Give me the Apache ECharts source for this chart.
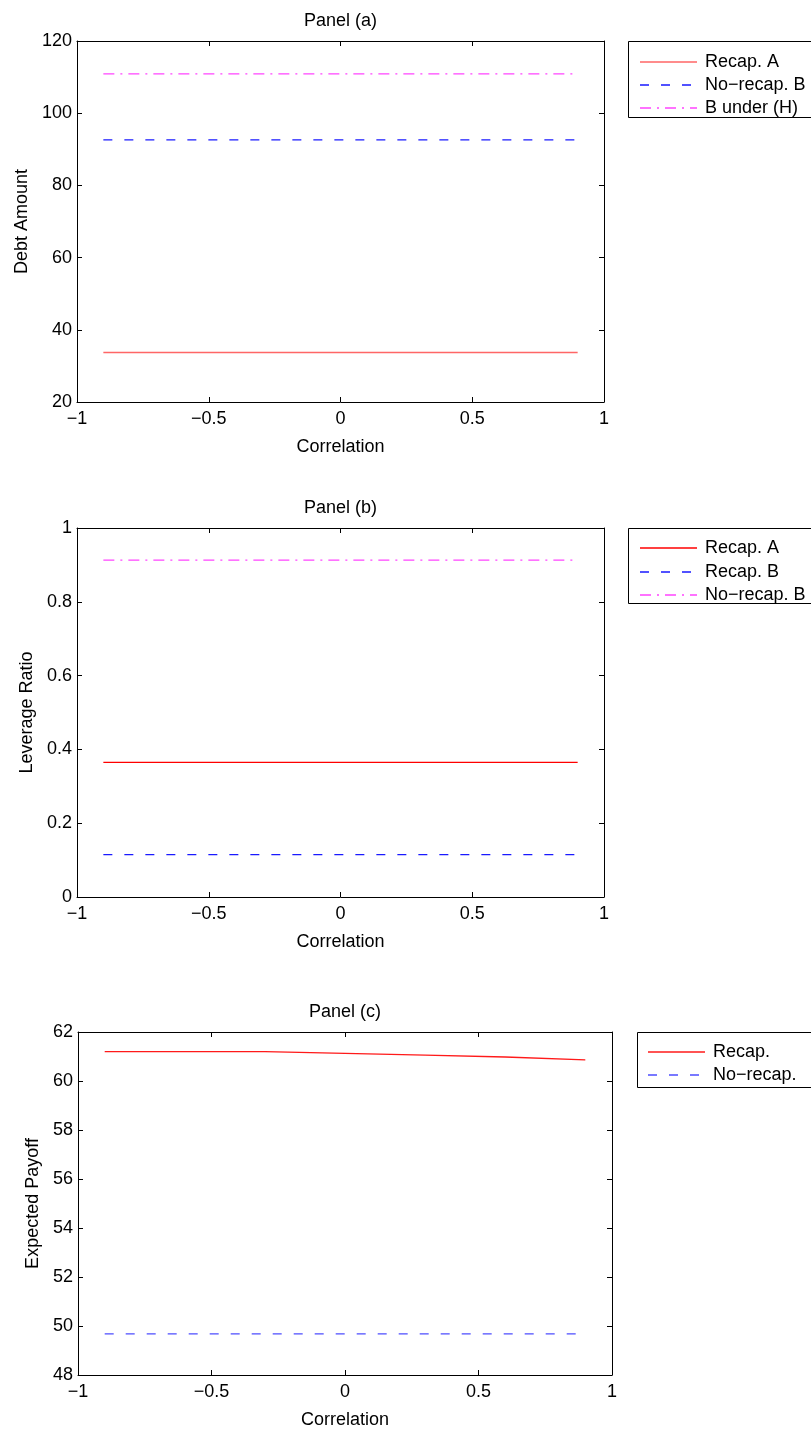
<!DOCTYPE html>
<html>
<head>
<meta charset="utf-8">
<script src="https://cdn.jsdelivr.net/npm/echarts@6/dist/echarts.min.js"></script>
<style>
html,body{margin:0;padding:0;background:#fff;}
#chart{width:811px;height:1431px;}
</style>
</head>
<body>
<div id="chart"></div>
<script>
// ---- data ----
const correlation = [-0.9, -0.6, -0.3, 0, 0.3, 0.6, 0.9];

const panelTitles = ['Panel (a)', 'Panel (b)', 'Panel (c)'];
const yNames = ['Debt Amount', 'Leverage Ratio', 'Expected Payoff'];
const xName = 'Correlation';

// Panel (a): debt amount
const aRecapA   = [33.7, 33.7, 33.7, 33.7, 33.7, 33.7, 33.7];
const aNoRecapB = [92.6, 92.6, 92.6, 92.6, 92.6, 92.6, 92.6];
const aBUnderH  = [110.9, 110.9, 110.9, 110.9, 110.9, 110.9, 110.9];
const aLegend = ['Recap. A', 'No\u2212recap. B', 'B under (H)'];

// Panel (b): leverage ratio
const bRecapA   = [0.365, 0.365, 0.365, 0.365, 0.365, 0.365, 0.365];
const bRecapB   = [0.115, 0.115, 0.115, 0.115, 0.115, 0.115, 0.115];
const bNoRecapB = [0.913, 0.913, 0.913, 0.913, 0.913, 0.913, 0.913];
const bLegend = ['Recap. A', 'Recap. B', 'No\u2212recap. B'];

// Panel (c): expected payoff
const cRecap   = [61.2, 61.2, 61.2, 61.13, 61.06, 60.98, 60.86];
const cNoRecap = [49.68, 49.68, 49.68, 49.68, 49.68, 49.68, 49.68];
const cLegend = ['Recap.', 'No\u2212recap.'];

const yRanges = [[20, 120, 20], [0, 1, 0.2], [48, 62, 2]];

// ---- layout ----
const grids = [
  {left: 77, top: 41, width: 527, height: 361},
  {left: 77, top: 528, width: 527, height: 369},
  {left: 78, top: 1032, width: 534, height: 343}
];
const yNameGaps = [46, 40, 35];
const legendBoxes = [
  {x: 628, y: 41, h: 76, lineX: 640, textX: 705, rowY: [62, 85, 108]},
  {x: 628, y: 528, h: 75, lineX: 640, textX: 705, rowY: [548, 572, 595]},
  {x: 637, y: 1032, h: 55, lineX: 648, textX: 713, rowY: [1052, 1075]}
];

const FONT = '"Liberation Sans", Arial, Helvetica, sans-serif';
const TICK_FS = 18, LABEL_FS = 18;
const minus = v => String(Math.round(v * 1000) / 1000).replace('-', '\u2212');

const xAxes = [], yAxes = [];
grids.forEach((g, i) => {
  const common = {
    gridIndex: i, splitLine: {show: false},
    axisLine: {show: true, onZero: false, lineStyle: {color: '#000', width: 1}},
    axisTick: {show: true, inside: true, length: 5, lineStyle: {color: '#000'}}
  };
  xAxes.push(Object.assign({}, common, {
    type: 'value', position: 'bottom', min: -1, max: 1, interval: 0.5,
    axisLabel: {show: true, color: '#000', fontSize: TICK_FS, fontFamily: FONT, margin: 8, formatter: minus},
    name: xName, nameLocation: 'middle', nameGap: 36,
    nameTextStyle: {color: '#000', fontSize: LABEL_FS, fontFamily: FONT}
  }));
  xAxes.push(Object.assign({}, common, {
    type: 'value', position: 'top', min: -1, max: 1, interval: 0.5,
    axisLabel: {show: false}
  }));
  const r = yRanges[i];
  yAxes.push(Object.assign({}, common, {
    type: 'value', position: 'left', min: r[0], max: r[1], interval: r[2],
    axisLabel: {show: true, color: '#000', fontSize: TICK_FS, fontFamily: FONT, margin: 5, formatter: minus},
    name: yNames[i], nameLocation: 'middle', nameGap: yNameGaps[i],
    nameTextStyle: {color: '#000', fontSize: LABEL_FS, fontFamily: FONT}
  }));
  yAxes.push(Object.assign({}, common, {
    type: 'value', position: 'right', min: r[0], max: r[1], interval: r[2],
    axisLabel: {show: false}
  }));
});

const DASH = [9, 12];
const DASHDOT = [11, 6, 2, 6];
function mk(name, xs, ys, gi, color, type, width) {
  return {
    name: name, type: 'line', xAxisIndex: gi * 2, yAxisIndex: gi * 2,
    data: xs.map((x, k) => [x, ys[k]]),
    symbol: 'none', showSymbol: false, animation: false,
    lineStyle: {color: color, width: width || 1.2, type: type},
    itemStyle: {color: color}
  };
}

const styleA = [['#ff6666', 'solid', 1.6], ['#1a1aff', DASH, 1.3], ['#ff44ff', DASHDOT, 1.3]];
const styleB = [['#ff0000', 'solid', 1.2], ['#1a1aff', DASH, 1.3], ['#ff44ff', DASHDOT, 1.3]];
const styleC = [['#ff1a1a', 'solid', 1.3], ['#4d4dff', DASH, 1.3]];

const series = [];
[[aLegend, [aRecapA, aNoRecapB, aBUnderH], styleA],
 [bLegend, [bRecapA, bRecapB, bNoRecapB], styleB],
 [cLegend, [cRecap, cNoRecap], styleC]].forEach((p, gi) => {
  p[0].forEach((nm, k) => {
    const st = p[2][k];
    series.push(mk(nm, correlation, p[1][k], gi, st[0], st[1], st[2]));
  });
});

// titles + hand-drawn legend boxes
const graphic = [];
panelTitles.forEach((t, i) => {
  graphic.push({
    type: 'text', x: grids[i].left + grids[i].width / 2, y: grids[i].top - 11,
    style: {text: t, fill: '#000', font: LABEL_FS + 'px ' + FONT, textAlign: 'center', textVerticalAlign: 'bottom'}
  });
});
[[aLegend, styleA], [bLegend, styleB], [cLegend, styleC]].forEach((p, i) => {
  const L = legendBoxes[i];
  graphic.push({
    type: 'rect', shape: {x: L.x + 0.5, y: L.y + 0.5, width: 260, height: L.h},
    style: {fill: '#fff', stroke: '#000', lineWidth: 1}, z: 100
  });
  p[0].forEach((nm, k) => {
    const st = p[1][k];
    graphic.push({
      type: 'line', shape: {x1: L.lineX, y1: L.rowY[k], x2: L.lineX + 57, y2: L.rowY[k]},
      style: {stroke: st[0], lineWidth: 1.5, lineDash: st[1] === 'solid' ? null : st[1]}, z: 101
    });
    graphic.push({
      type: 'text', x: L.textX, y: L.rowY[k],
      style: {text: nm, fill: '#000', font: LABEL_FS + 'px ' + FONT, textVerticalAlign: 'middle'}, z: 101
    });
  });
});

const chart = echarts.init(document.getElementById('chart'), null, {renderer: 'canvas'});
chart.setOption({
  backgroundColor: '#fff',
  animation: false,
  grid: grids,
  xAxis: xAxes,
  yAxis: yAxes,
  series: series,
  graphic: graphic
});
</script>
</body>
</html>
